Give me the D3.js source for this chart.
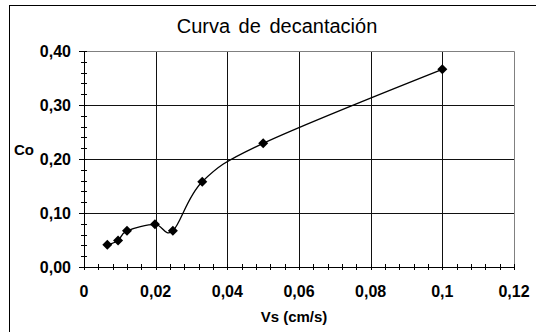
<!DOCTYPE html>
<html>
<head>
<meta charset="utf-8">
<script src="https://cdn.jsdelivr.net/npm/d3@7"></script>
<style>
  body { margin: 0; background: #fff; }
  text { font-family: "Liberation Sans", Arial, sans-serif; }
</style>
</head>
<body>
<div id="chart"></div>
<script>
// data
let vs = [0.0065, 0.0095, 0.012, 0.0198, 0.0248, 0.033, 0.05, 0.1]
let co = [0.041, 0.049, 0.067, 0.079, 0.067, 0.158, 0.229, 0.366]
let xTicks = [0, 0.02, 0.04, 0.06, 0.08, 0.1, 0.12]
let xTickLabels = ['0', '0,02', '0,04', '0,06', '0,08', '0,1', '0,12']
let yTicks = [0, 0.1, 0.2, 0.3, 0.4]
let yTickLabels = ['0,00', '0,10', '0,20', '0,30', '0,40']

let width = 536
let height = 332

let svg = d3.select('#chart').append('svg')
  .attr('width', width)
  .attr('height', height)

// outer frame (right and bottom fall off the page)
svg.append('rect')
  .attr('x', 9.5).attr('y', 5.5)
  .attr('width', 540).attr('height', 340)
  .attr('fill', 'none').attr('stroke', '#000')

let x = d3.scaleLinear().domain([0, 0.12]).range([84, 514])
let y = d3.scaleLinear().domain([0, 0.4]).range([267, 51])

let crisp = v => Math.round(v) + 0.5

// gridlines
svg.append('g').selectAll('line')
  .data(xTicks.slice(1, -1))
  .enter().append('line')
  .attr('x1', d => crisp(x(d))).attr('x2', d => crisp(x(d)))
  .attr('y1', y(0.4)).attr('y2', y(0))
  .attr('stroke', '#111')

svg.append('g').selectAll('line')
  .data(yTicks.slice(1, -1))
  .enter().append('line')
  .attr('y1', d => crisp(y(d))).attr('y2', d => crisp(y(d)))
  .attr('x1', x(0)).attr('x2', x(0.12))
  .attr('stroke', '#111')

// plot area border top / right
svg.append('path')
  .attr('d', 'M' + crisp(x(0)) + ',' + crisp(y(0.4)) + 'H' + crisp(x(0.12)) + 'V' + crisp(y(0)))
  .attr('fill', 'none').attr('stroke', '#808080')

// axes with crossing ticks
let xAxisG = svg.append('g')
xAxisG.append('line')
  .attr('x1', x(0)).attr('x2', x(0.12))
  .attr('y1', crisp(y(0))).attr('y2', crisp(y(0)))
  .attr('stroke', '#000')
let xMinor = d3.range(0, 0.12001, 0.004)
xAxisG.selectAll('.tk').data(xMinor).enter().append('line')
  .attr('x1', d => crisp(x(d))).attr('x2', d => crisp(x(d)))
  .attr('y1', y(0) - 3).attr('y2', y(0) + 3)
  .attr('stroke', '#000')
xAxisG.selectAll('text').data(xTicks).enter().append('text')
  .attr('x', d => x(d)).attr('y', 297)
  .attr('text-anchor', 'middle')
  .attr('font-size', 16).attr('font-weight', 'bold')
  .text((d, i) => xTickLabels[i])

let yAxisG = svg.append('g')
yAxisG.append('line')
  .attr('x1', crisp(x(0))).attr('x2', crisp(x(0)))
  .attr('y1', y(0.4)).attr('y2', y(0))
  .attr('stroke', '#000')
let yMinor = d3.range(0, 0.4001, 0.02)
yAxisG.selectAll('.tk').data(yMinor).enter().append('line')
  .attr('y1', d => crisp(y(d))).attr('y2', d => crisp(y(d)))
  .attr('x1', d => x(0) - (Math.abs(d * 10 - Math.round(d * 10)) < 1e-6 ? 5 : 3))
  .attr('x2', x(0) + 3)
  .attr('stroke', '#000')
yAxisG.selectAll('text').data(yTicks).enter().append('text')
  .attr('x', 71).attr('y', d => y(d) + 6)
  .attr('text-anchor', 'end')
  .attr('font-size', 16).attr('font-weight', 'bold')
  .text((d, i) => yTickLabels[i])

// smoothed line
let pts = vs.map((v, i) => [v, co[i]])
let line = d3.line()
  .x(d => x(d[0]))
  .y(d => y(d[1]))
  .curve(d3.curveCardinal.tension(0))

svg.append('path')
  .attr('d', line(pts))
  .attr('fill', 'none')
  .attr('stroke', '#000')
  .attr('stroke-width', 1.3)

// diamond markers
let diamond = d3.symbol(d3.symbolSquare, 50)
svg.append('g').selectAll('path')
  .data(pts)
  .enter().append('path')
  .attr('d', diamond)
  .attr('transform', d => 'translate(' + x(d[0]) + ',' + y(d[1]) + ') rotate(45)')
  .attr('fill', '#000')

// titles
svg.append('text')
  .attr('x', 277).attr('y', 33)
  .attr('text-anchor', 'middle')
  .attr('font-size', 20)
  .attr('word-spacing', 3)
  .text('Curva de decantación')

svg.append('text')
  .attr('x', 294).attr('y', 322)
  .attr('text-anchor', 'middle')
  .attr('font-size', 15).attr('font-weight', 'bold')
  .text('Vs (cm/s)')

svg.append('text')
  .attr('x', 14).attr('y', 155)
  .attr('font-size', 15).attr('font-weight', 'bold')
  .text('Co')
</script>
</body>
</html>
